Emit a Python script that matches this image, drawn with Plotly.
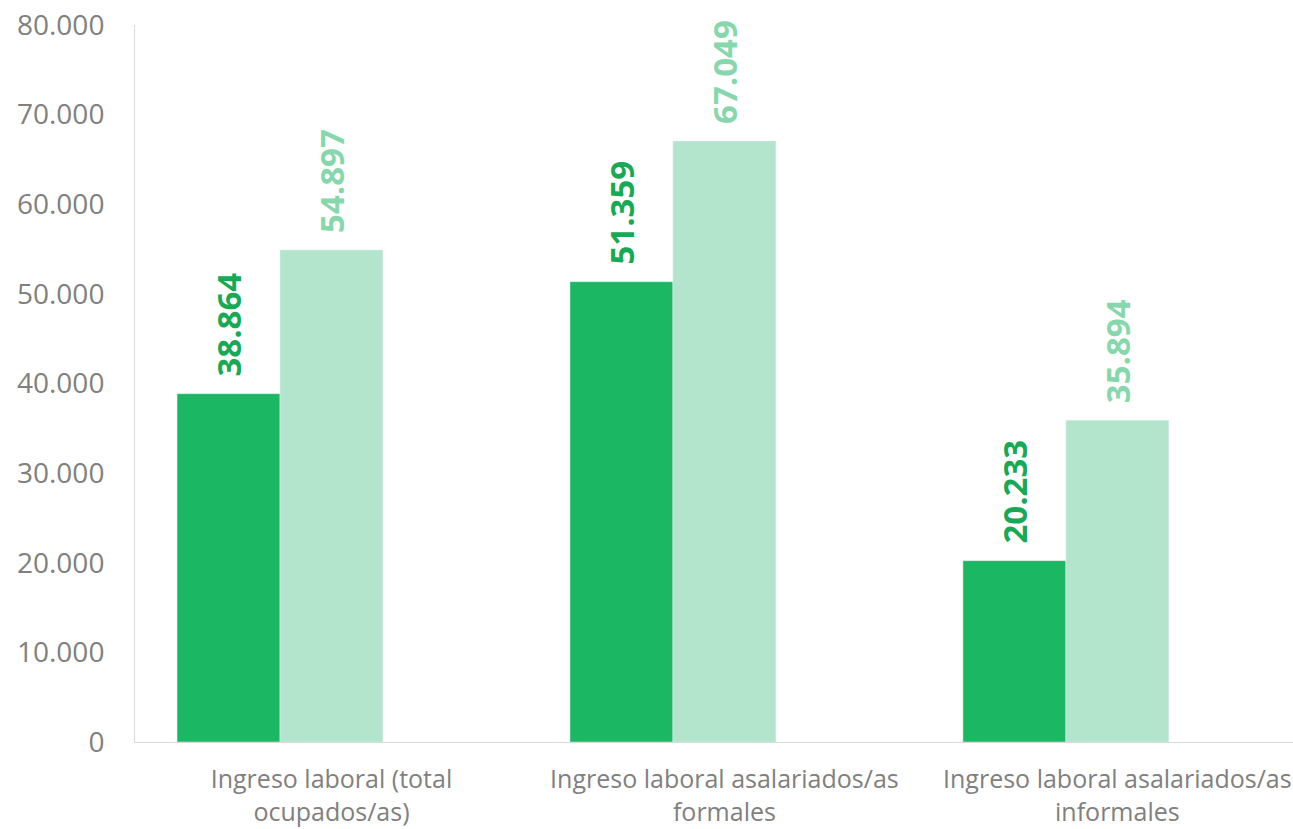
import plotly.graph_objects as go

# Ingreso laboral por categoría (dos series)
categorias = ["Ingreso laboral (total<br>ocupados/as)",
              "Ingreso laboral asalariados/as<br>formales",
              "Ingreso laboral asalariados/as<br>informales"]
serie_1 = [38864, 51359, 20233]
serie_2 = [54897, 67049, 35894]
ticks_y = [0, 10000, 20000, 30000, 40000, 50000, 60000, 70000, 80000]

# leading spaces keep the rotated label a bit above the bar
etiqueta = "<b>\u00a0\u2006%{y:,.0f}</b>"

fig = go.Figure()

fig.add_trace(go.Bar(
    x=categorias, y=serie_1, marker_color="#1BB762",
    texttemplate=etiqueta, textposition="outside", textangle=-90,
    outsidetextfont=dict(color="#17A956", size=33, family="Open Sans"),
    cliponaxis=False, constraintext="none",
))
fig.add_trace(go.Bar(
    x=categorias, y=serie_2, marker_color="#B3E5CC",
    texttemplate=etiqueta, textposition="outside", textangle=-90,
    outsidetextfont=dict(color="#86D8AC", size=33, family="Open Sans"),
    cliponaxis=False, constraintext="none",
))
# serie vacía (hueco a la derecha de cada grupo, como en el original)
fig.add_trace(go.Bar(x=categorias, y=[None, None, None], showlegend=False))

fig.update_layout(
    width=1293, height=829,
    margin=dict(l=135, r=0, t=25, b=87),
    plot_bgcolor="white", paper_bgcolor="white",
    barmode="group", bargap=0.214, bargroupgap=0,
    showlegend=False,
    separators=",.",
    font=dict(family="Open Sans", color="#808080"),
)
fig.update_yaxes(
    range=[0, 80000], tickvals=ticks_y, tickformat=",.0f",
    showgrid=False, showline=True, linecolor="#D9D9D9", linewidth=1,
    tickfont=dict(size=28, color="#808080"), ticks="", ticklabelstandoff=24,
    ticklabeloverflow="allow", zeroline=False,
)
fig.update_xaxes(
    range=[-0.5, 2.447], showgrid=False, showline=True, linecolor="#D9D9D9",
    tickfont=dict(size=25, color="#808080"), ticks="", ticklabelstandoff=15,
    ticklabeloverflow="allow",
)

# page without the default body margin so the figure sits at 0,0
fig.write_html("out.html", config={"displayModeBar": False},
               post_script="document.body.style.margin='0';")
